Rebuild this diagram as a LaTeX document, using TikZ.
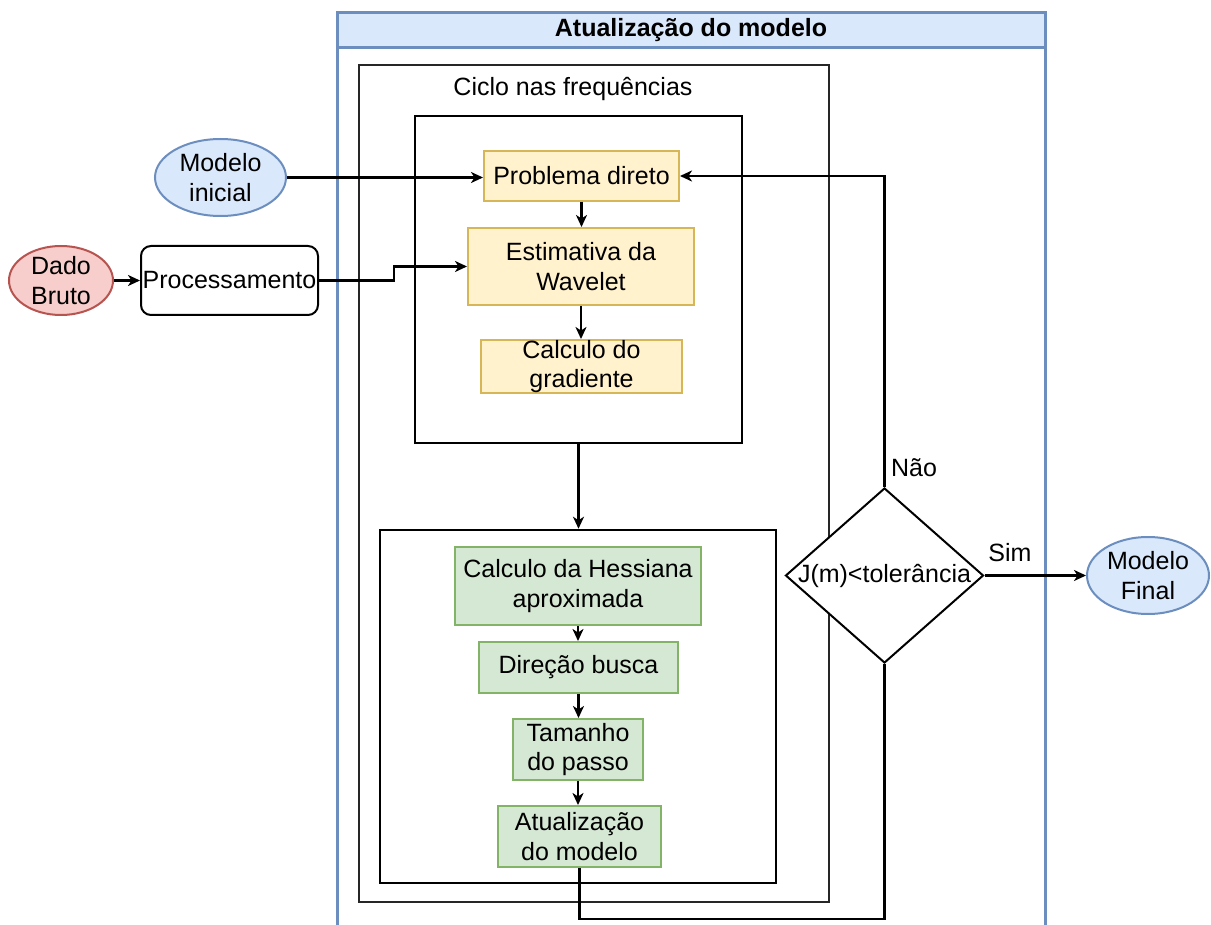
\documentclass[tikz,border=0pt]{standalone}
\usepackage{fontspec}
\setmainfont{Liberation Sans}
\usetikzlibrary{shapes.geometric,arrows.meta}
\definecolor{bluefill}{HTML}{DAE8FC}
\definecolor{blueline}{HTML}{6C8EBF}
\definecolor{yelfill}{HTML}{FFF2CC}
\definecolor{yelline}{HTML}{D6B656}
\definecolor{grnfill}{HTML}{D5E8D4}
\definecolor{grnline}{HTML}{82B366}
\definecolor{redfill}{HTML}{F8CECC}
\definecolor{redline}{HTML}{B85450}
\tikzset{
  box/.style={rectangle, draw, line width=2pt, align=center, inner sep=0pt},
  yelbox/.style={box, fill=yelfill, draw=yelline},
  grnbox/.style={box, fill=grnfill, draw=grnline},
  frame/.style={rectangle, draw=black, line width=2.5pt, inner sep=0pt},
  thinframe/.style={rectangle, draw=black!85, line width=1.3pt, inner sep=0pt},
  oval/.style={ellipse, line width=2pt, inner sep=0pt},
  txt/.style={align=center, inner sep=0pt},
  conn/.style={line width=2.3pt, -{Stealth[length=12pt,width=11pt,inset=3.5pt]}},
  plain/.style={line width=2.3pt}
}
\begin{document}
\begin{tikzpicture}[x=1pt,y=-1pt,font=\fontsize{25}{29.5}\selectfont]
\clip (0,0) rectangle (1211,925);
\fill[white] (0,0) rectangle (1211,925);
% pool
\draw[blueline, line width=3pt] (337,960) -- (337,13) -- (1045,13) -- (1045,960);
\node[rectangle, fill=bluefill, draw=blueline, line width=3pt, minimum width=708, minimum height=35, inner sep=0pt] (pool) at (691,30.5) {\bfseries Atualização do modelo};
% containers
\node[thinframe, minimum width=470, minimum height=837] (ciclo) at (594,483.5) {};
\node[txt] (ciclolbl) at (573,89) {Ciclo nas frequências};
\node[frame, minimum width=327, minimum height=327] (box1) at (578.5,279.5) {};
\node[frame, minimum width=396, minimum height=353] (box2) at (578,706.5) {};
% yellow steps
\node[yelbox, minimum width=195, minimum height=50] (pd) at (581.5,176) {Problema direto};
\node[yelbox, minimum width=226, minimum height=77] (est) at (581,266.5) {Estimativa da\\Wavelet};
\node[yelbox, minimum width=201, minimum height=53] (grad) at (581.5,366.5) {Calculo do\\gradiente};
% green steps
\node[grnbox, minimum width=246, minimum height=78] (hes) at (578,586) {Calculo da Hessiana\\aproximada};
\node[grnbox, minimum width=199, minimum height=51] (dir) at (578.5,667.5) {Direção busca};
\node[grnbox, minimum width=130, minimum height=61] (tam) at (578,749.5) {Tamanho\\do passo};
\node[grnbox, minimum width=163, minimum height=61] (atu) at (579.5,836.5) {Atualização\\do modelo};
% inputs
\node[oval, fill=bluefill, draw=blueline, minimum width=131, minimum height=77] (mi) at (220.5,177.5) {};
\node[txt] (mitxt) at (mi.center) {Modelo\\inicial};
\node[oval, fill=redfill, draw=redline, minimum width=104, minimum height=69] (db) at (61,280.5) {};
\node[txt] (dbtxt) at (db.center) {Dado\\Bruto};
\node[rectangle, draw, line width=2pt, rounded corners=10pt, minimum width=177, minimum height=69, inner sep=0pt] (proc) at (229.5,280.5) {Processamento};
% decision
\node[diamond, draw, line width=2pt, fill=white, minimum width=198, minimum height=175, inner sep=0pt] (dec) at (884.5,575.5) {};
\node[txt] (dectxt) at (dec.center) {J(m)<tolerância};
% output
\node[oval, fill=bluefill, draw=blueline, minimum width=122, minimum height=77] (mf) at (1148,575.5) {};
\node[txt] (mftxt) at (mf.center) {Modelo\\Final};
% connectors
\draw[conn] (mi.east) -- (mi.east -| pd.west);
\draw[conn] (db.east) -- (proc.west);
\draw[conn] (proc.east) -- ++(75,0) |- (est.west);
\draw[conn] (pd.south) -- (pd.south |- est.north);
\draw[conn] (est.south) -- (est.south |- grad.north);
\draw[conn] (box1.south) -- (box1.south |- box2.north);
\draw[conn] (hes.south) -- (hes.south |- dir.north);
\draw[conn] (dir.south) -- (dir.south |- tam.north);
\draw[conn] (tam.south) -- (tam.south |- atu.north);
\draw[plain] (atu.south) -- ++(0,51) -| (dec.south);
\draw[conn] (dec.north) |- (pd.east);
\draw[conn] (dec.east) -- (mf.west);
\node[txt] (nao) at (914,468) {Não};
\node[txt] (sim) at (1010,553) {Sim};
\end{tikzpicture}
\end{document}
